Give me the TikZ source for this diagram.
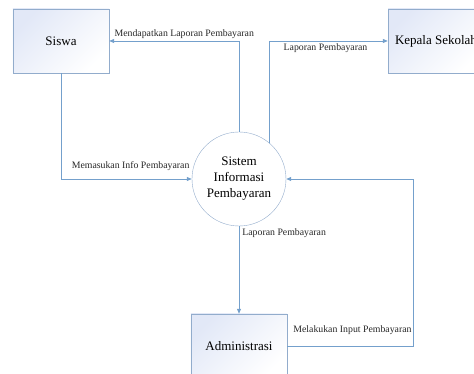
\documentclass[tikz,border=0pt]{standalone}
\usepackage{fontspec}
\setmainfont{Liberation Serif}
\usetikzlibrary{positioning,arrows.meta}
\definecolor{flowline}{RGB}{116,160,204}
\definecolor{boxline}{RGB}{146,172,204}
\definecolor{boxtop}{RGB}{226,232,247}
\begin{document}
\begin{tikzpicture}[on grid,
		entity/.style = {draw=boxline, top color=boxtop, bottom color=white, shading angle=45, minimum width=96pt, minimum height=64pt, font=\fontsize{13}{15}\selectfont},
		process/.style = {draw=boxline, circle, fill=white, minimum size=94pt, inner sep=0pt, align=center, font=\fontsize{13}{16}\selectfont},
		flow/.style = {draw=flowline, line width=0.8pt, -{Triangle[length=5pt,width=4pt]}},
		lbl/.style = {font=\fontsize{9.8}{11}\selectfont, text=black!85, inner sep=2pt}]
		\useasboundingbox (-239pt,179pt) rectangle (235pt,-195pt);
		\node[process] (sistem) at (0,0) {Sistem\\Informasi\\Pembayaran};
		\node[entity] (siswa) [above left=138pt and 178pt of sistem] {Siswa};
		\node[entity] (kepala) [above right=138pt and 197pt of sistem] {Kepala Sekolah};
		\node[entity] (admin) [below=167pt of sistem] {Administrasi};
		\coordinate[right=174pt of sistem] (bend);
		\draw[flow] (sistem.north) |- (siswa.east) node[lbl, pos=1, above right, xshift=3pt] {Mendapatkan Laporan Pembayaran};
		\draw[flow] (siswa.south) |- (sistem.west) node[lbl, pos=1, above left, yshift=6pt] {Memasukan Info Pembayaran};
		\draw[flow] (sistem.50) |- (kepala.west) node[lbl, pos=0.5, below right, xshift=12pt] {Laporan Pembayaran};
		\draw[flow] (sistem.south) -- (admin.north) node[lbl, pos=0, below right, xshift=1pt] {Laporan Pembayaran};
		\draw[flow] (admin.east) -| (bend) -- (sistem.east);
		\node[lbl, above right=9pt and 4pt of admin.east, anchor=south west] (input) {Melakukan Input Pembayaran};
	\end{tikzpicture}
\end{document}
